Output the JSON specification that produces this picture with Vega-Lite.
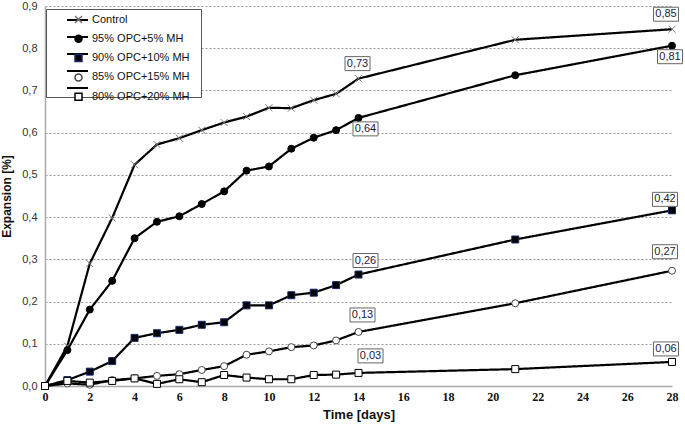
{
  "$schema": "https://vega.github.io/schema/vega-lite/v6.json",
  "width": 627,
  "height": 380,
  "autosize": "none",
  "padding": {"left": 45, "top": 6, "right": 13, "bottom": 40},
  "background": "white",
  "config": {"view": {"stroke": null}},
  "datasets": {
    "main": [
      {"series": "Control", "day": 0, "value": 0},
      {"series": "Control", "day": 1, "value": 0.095},
      {"series": "Control", "day": 2, "value": 0.29},
      {"series": "Control", "day": 3, "value": 0.398},
      {"series": "Control", "day": 4, "value": 0.524},
      {"series": "Control", "day": 5, "value": 0.572},
      {"series": "Control", "day": 6, "value": 0.587},
      {"series": "Control", "day": 7, "value": 0.606},
      {"series": "Control", "day": 8, "value": 0.624},
      {"series": "Control", "day": 9, "value": 0.638},
      {"series": "Control", "day": 10, "value": 0.659},
      {"series": "Control", "day": 11, "value": 0.658},
      {"series": "Control", "day": 12, "value": 0.677},
      {"series": "Control", "day": 13, "value": 0.692},
      {"series": "Control", "day": 14, "value": 0.728},
      {"series": "Control", "day": 21, "value": 0.82},
      {"series": "Control", "day": 28, "value": 0.845},
      {"series": "95% OPC+5% MH", "day": 0, "value": 0},
      {"series": "95% OPC+5% MH", "day": 1, "value": 0.085},
      {"series": "95% OPC+5% MH", "day": 2, "value": 0.181},
      {"series": "95% OPC+5% MH", "day": 3, "value": 0.249},
      {"series": "95% OPC+5% MH", "day": 4, "value": 0.35},
      {"series": "95% OPC+5% MH", "day": 5, "value": 0.389},
      {"series": "95% OPC+5% MH", "day": 6, "value": 0.402},
      {"series": "95% OPC+5% MH", "day": 7, "value": 0.431},
      {"series": "95% OPC+5% MH", "day": 8, "value": 0.461},
      {"series": "95% OPC+5% MH", "day": 9, "value": 0.51},
      {"series": "95% OPC+5% MH", "day": 10, "value": 0.52},
      {"series": "95% OPC+5% MH", "day": 11, "value": 0.562},
      {"series": "95% OPC+5% MH", "day": 12, "value": 0.588},
      {"series": "95% OPC+5% MH", "day": 13, "value": 0.606},
      {"series": "95% OPC+5% MH", "day": 14, "value": 0.635},
      {"series": "95% OPC+5% MH", "day": 21, "value": 0.736},
      {"series": "95% OPC+5% MH", "day": 28, "value": 0.806},
      {"series": "90% OPC+10% MH", "day": 0, "value": 0},
      {"series": "90% OPC+10% MH", "day": 1, "value": 0.014},
      {"series": "90% OPC+10% MH", "day": 2, "value": 0.034},
      {"series": "90% OPC+10% MH", "day": 3, "value": 0.059},
      {"series": "90% OPC+10% MH", "day": 4, "value": 0.114},
      {"series": "90% OPC+10% MH", "day": 5, "value": 0.125},
      {"series": "90% OPC+10% MH", "day": 6, "value": 0.133},
      {"series": "90% OPC+10% MH", "day": 7, "value": 0.145},
      {"series": "90% OPC+10% MH", "day": 8, "value": 0.151},
      {"series": "90% OPC+10% MH", "day": 9, "value": 0.191},
      {"series": "90% OPC+10% MH", "day": 10, "value": 0.191},
      {"series": "90% OPC+10% MH", "day": 11, "value": 0.215},
      {"series": "90% OPC+10% MH", "day": 12, "value": 0.221},
      {"series": "90% OPC+10% MH", "day": 13, "value": 0.239},
      {"series": "90% OPC+10% MH", "day": 14, "value": 0.264},
      {"series": "90% OPC+10% MH", "day": 21, "value": 0.347},
      {"series": "90% OPC+10% MH", "day": 28, "value": 0.416},
      {"series": "85% OPC+15% MH", "day": 0, "value": 0},
      {"series": "85% OPC+15% MH", "day": 1, "value": 0.006},
      {"series": "85% OPC+15% MH", "day": 2, "value": 0.003},
      {"series": "85% OPC+15% MH", "day": 3, "value": 0.014},
      {"series": "85% OPC+15% MH", "day": 4, "value": 0.018},
      {"series": "85% OPC+15% MH", "day": 5, "value": 0.024},
      {"series": "85% OPC+15% MH", "day": 6, "value": 0.028},
      {"series": "85% OPC+15% MH", "day": 7, "value": 0.038},
      {"series": "85% OPC+15% MH", "day": 8, "value": 0.047},
      {"series": "85% OPC+15% MH", "day": 9, "value": 0.074},
      {"series": "85% OPC+15% MH", "day": 10, "value": 0.082},
      {"series": "85% OPC+15% MH", "day": 11, "value": 0.092},
      {"series": "85% OPC+15% MH", "day": 12, "value": 0.096},
      {"series": "85% OPC+15% MH", "day": 13, "value": 0.108},
      {"series": "85% OPC+15% MH", "day": 14, "value": 0.128},
      {"series": "85% OPC+15% MH", "day": 21, "value": 0.196},
      {"series": "85% OPC+15% MH", "day": 28, "value": 0.273},
      {"series": "80% OPC+20% MH", "day": 0, "value": 0},
      {"series": "80% OPC+20% MH", "day": 1, "value": 0.012},
      {"series": "80% OPC+20% MH", "day": 2, "value": 0.008},
      {"series": "80% OPC+20% MH", "day": 3, "value": 0.012},
      {"series": "80% OPC+20% MH", "day": 4, "value": 0.018},
      {"series": "80% OPC+20% MH", "day": 5, "value": 0.005},
      {"series": "80% OPC+20% MH", "day": 6, "value": 0.016},
      {"series": "80% OPC+20% MH", "day": 7, "value": 0.009},
      {"series": "80% OPC+20% MH", "day": 8, "value": 0.026},
      {"series": "80% OPC+20% MH", "day": 9, "value": 0.02},
      {"series": "80% OPC+20% MH", "day": 10, "value": 0.016},
      {"series": "80% OPC+20% MH", "day": 11, "value": 0.016},
      {"series": "80% OPC+20% MH", "day": 12, "value": 0.026},
      {"series": "80% OPC+20% MH", "day": 13, "value": 0.027},
      {"series": "80% OPC+20% MH", "day": 14, "value": 0.031},
      {"series": "80% OPC+20% MH", "day": 21, "value": 0.04},
      {"series": "80% OPC+20% MH", "day": 28, "value": 0.057}
    ],
    "labels": [
      {"series": "Control", "day": 28, "value": 0.845, "label": "0,85"},
      {"series": "95% OPC+5% MH", "day": 28, "value": 0.806, "label": "0,81"},
      {"series": "Control", "day": 14, "value": 0.728, "label": "0,73"},
      {"series": "95% OPC+5% MH", "day": 14, "value": 0.635, "label": "0,64"},
      {"series": "90% OPC+10% MH", "day": 28, "value": 0.416, "label": "0,42"},
      {"series": "85% OPC+15% MH", "day": 28, "value": 0.273, "label": "0,27"},
      {"series": "90% OPC+10% MH", "day": 14, "value": 0.264, "label": "0,26"},
      {"series": "85% OPC+15% MH", "day": 14, "value": 0.128, "label": "0,13"},
      {"series": "80% OPC+20% MH", "day": 14, "value": 0.031, "label": "0,03"},
      {"series": "80% OPC+20% MH", "day": 28, "value": 0.057, "label": "0,06"}
    ]
  },
  "layer": [
    {
      "data": {"name": "main"},
      "mark": {"type": "line", "color": "black", "strokeWidth": 2.2},
      "encoding": {
        "x": {
          "field": "day", "type": "quantitative",
          "scale": {"domain": [0, 28], "nice": false},
          "axis": {
            "title": "Time [days]",
            "values": [0, 2, 4, 6, 8, 10, 12, 14, 16, 18, 20, 22, 24, 26, 28],
            "grid": false, "ticks": false, "domainColor": "#aaaaaa", "domainWidth": 1.5,
            "labelFont": "Liberation Sans Narrow", "labelFontWeight": "bold", "labelFontSize": 12,
            "labelColor": "#111111", "labelPadding": 5, "labelFlush": false,
            "titleFont": "Liberation Sans", "titleFontWeight": "bold", "titleFontSize": 13,
            "titleColor": "#111111", "titlePadding": 6
          }
        },
        "y": {
          "field": "value", "type": "quantitative",
          "scale": {"domain": [0, 0.9], "nice": false},
          "axis": {
            "title": "Expansion [%]",
            "values": [0, 0.1, 0.2, 0.3, 0.4, 0.5, 0.6, 0.7, 0.8, 0.9],
            "labelExpr": "replace(format(datum.value, '.1f'), '.', ',')",
            "grid": true, "gridDash": [2, 2], "gridColor": "#999999", "gridWidth": 1,
            "ticks": false, "domainColor": "#aaaaaa", "domainWidth": 1.5,
            "labelFont": "Liberation Sans", "labelFontSize": 11, "labelColor": "#333333",
            "labelPadding": 8, "labelFlush": false,
            "titleFont": "Liberation Sans", "titleFontWeight": "bold", "titleFontSize": 12,
            "titleColor": "#111111", "titlePadding": 8
          }
        },
        "strokeDash": {
          "field": "series", "type": "nominal",
          "scale": {
            "domain": ["Control", "95% OPC+5% MH", "90% OPC+10% MH", "85% OPC+15% MH", "80% OPC+20% MH", "none"],
            "range": [[1, 0], [1, 0], [1, 0], [1, 0], [1, 0], [1, 0]]
          },
          "legend": {
            "title": null,
            "values": ["Control", "95% OPC+5% MH", "90% OPC+10% MH", "85% OPC+15% MH", "80% OPC+20% MH"],
            "orient": "none",
            "legendX": 1,
            "legendY": 3,
            "padding": 5,
            "fillColor": "white",
            "strokeColor": "#555555",
            "cornerRadius": 0,
            "symbolType": "M-2.1,0H2.1",
            "symbolSize": 100,
            "symbolStrokeWidth": 2,
            "symbolStrokeColor": "black",
            "symbolOffset": 20.5,
            "labelOffset": 112,
            "rowPadding": 7,
            "labelExpr": "''",
            "labelFont": "Liberation Sans",
            "labelFontSize": 1,
            "labelOpacity": 0
          }
        },
        "detail": {"field": "series", "type": "nominal"}
      }
    },
    {
      "data": {"name": "main"},
      "mark": {"type": "point", "filled": true, "opacity": 1, "strokeWidth": 1},
      "encoding": {
        "x": {"field": "day", "type": "quantitative"},
        "y": {"field": "value", "type": "quantitative"},
        "shape": {
          "field": "series", "type": "nominal",
          "scale": {
            "domain": ["Control", "95% OPC+5% MH", "90% OPC+10% MH", "85% OPC+15% MH", "80% OPC+20% MH"],
            "range": ["M-1,-1L1,1M1,-1L-1,1", "circle", "square", "circle", "square"]
          },
          "legend": {
            "title": null,
            "orient": "none",
            "legendX": 1,
            "legendY": 3,
            "padding": 5,
            "fillColor": "transparent",
            "strokeColor": "transparent",
            "symbolOffset": 22,
            "labelOffset": 8,
            "rowPadding": 6.3,
            "labelFont": "Liberation Sans",
            "labelFontSize": 11,
            "labelColor": "#111111"
          }
        },
        "fill": {
          "field": "series", "type": "nominal",
          "scale": {
            "domain": ["Control", "95% OPC+5% MH", "90% OPC+10% MH", "85% OPC+15% MH", "80% OPC+20% MH"],
            "range": ["white", "black", "black", "white", "white"]
          }
        },
        "stroke": {
          "field": "series", "type": "nominal",
          "scale": {
            "domain": ["Control", "95% OPC+5% MH", "90% OPC+10% MH", "85% OPC+15% MH", "80% OPC+20% MH"],
            "range": ["#777777", "black", "#1a2a6c", "#444444", "black"]
          }
        },
        "size": {
          "field": "series", "type": "nominal",
          "scale": {
            "domain": ["Control", "95% OPC+5% MH", "90% OPC+10% MH", "85% OPC+15% MH", "80% OPC+20% MH"],
            "range": [49, 49, 45, 40, 42]
          }
        }
      }
    },
    {"data": {"name": "labels"}, "transform": [{"filter": "datum.label === '0,85'"}], "encoding": {"x": {"field": "day", "type": "quantitative"}, "y": {"field": "value", "type": "quantitative"}, "text": {"field": "label"}},
     "layer": [{"mark": {"type": "point", "shape": "M-1,-0.56H1V0.56H-1Z", "size": 625, "filled": true, "fill": "white", "stroke": "#666666", "strokeWidth": 1, "opacity": 1, "xOffset": -6, "yOffset": -15}},
               {"mark": {"type": "text", "dx": -6, "dy": -15, "font": "Liberation Sans", "fontSize": 11, "color": "#222233"}}]},
    {"data": {"name": "labels"}, "transform": [{"filter": "datum.label === '0,81'"}], "encoding": {"x": {"field": "day", "type": "quantitative"}, "y": {"field": "value", "type": "quantitative"}, "text": {"field": "label"}},
     "layer": [{"mark": {"type": "point", "shape": "M-1,-0.56H1V0.56H-1Z", "size": 625, "filled": true, "fill": "white", "stroke": "#666666", "strokeWidth": 1, "opacity": 1, "xOffset": -2, "yOffset": 11}},
               {"mark": {"type": "text", "dx": -2, "dy": 11, "font": "Liberation Sans", "fontSize": 11, "color": "#222233"}}]},
    {"data": {"name": "labels"}, "transform": [{"filter": "datum.label === '0,73'"}], "encoding": {"x": {"field": "day", "type": "quantitative"}, "y": {"field": "value", "type": "quantitative"}, "text": {"field": "label"}},
     "layer": [{"mark": {"type": "point", "shape": "M-1,-0.56H1V0.56H-1Z", "size": 625, "filled": true, "fill": "white", "stroke": "#666666", "strokeWidth": 1, "opacity": 1, "xOffset": -1, "yOffset": -15}},
               {"mark": {"type": "text", "dx": -1, "dy": -15, "font": "Liberation Sans", "fontSize": 11, "color": "#222233"}}]},
    {"data": {"name": "labels"}, "transform": [{"filter": "datum.label === '0,64'"}], "encoding": {"x": {"field": "day", "type": "quantitative"}, "y": {"field": "value", "type": "quantitative"}, "text": {"field": "label"}},
     "layer": [{"mark": {"type": "point", "shape": "M-1,-0.56H1V0.56H-1Z", "size": 625, "filled": true, "fill": "white", "stroke": "#666666", "strokeWidth": 1, "opacity": 1, "xOffset": 7, "yOffset": 11}},
               {"mark": {"type": "text", "dx": 7, "dy": 11, "font": "Liberation Sans", "fontSize": 11, "color": "#222233"}}]},
    {"data": {"name": "labels"}, "transform": [{"filter": "datum.label === '0,42'"}], "encoding": {"x": {"field": "day", "type": "quantitative"}, "y": {"field": "value", "type": "quantitative"}, "text": {"field": "label"}},
     "layer": [{"mark": {"type": "point", "shape": "M-1,-0.56H1V0.56H-1Z", "size": 625, "filled": true, "fill": "white", "stroke": "#666666", "strokeWidth": 1, "opacity": 1, "xOffset": -7, "yOffset": -11}},
               {"mark": {"type": "text", "dx": -7, "dy": -11, "font": "Liberation Sans", "fontSize": 11, "color": "#222233"}}]},
    {"data": {"name": "labels"}, "transform": [{"filter": "datum.label === '0,27'"}], "encoding": {"x": {"field": "day", "type": "quantitative"}, "y": {"field": "value", "type": "quantitative"}, "text": {"field": "label"}},
     "layer": [{"mark": {"type": "point", "shape": "M-1,-0.56H1V0.56H-1Z", "size": 625, "filled": true, "fill": "white", "stroke": "#666666", "strokeWidth": 1, "opacity": 1, "xOffset": -7, "yOffset": -19}},
               {"mark": {"type": "text", "dx": -7, "dy": -19, "font": "Liberation Sans", "fontSize": 11, "color": "#222233"}}]},
    {"data": {"name": "labels"}, "transform": [{"filter": "datum.label === '0,26'"}], "encoding": {"x": {"field": "day", "type": "quantitative"}, "y": {"field": "value", "type": "quantitative"}, "text": {"field": "label"}},
     "layer": [{"mark": {"type": "point", "shape": "M-1,-0.56H1V0.56H-1Z", "size": 625, "filled": true, "fill": "white", "stroke": "#666666", "strokeWidth": 1, "opacity": 1, "xOffset": 7, "yOffset": -14}},
               {"mark": {"type": "text", "dx": 7, "dy": -14, "font": "Liberation Sans", "fontSize": 11, "color": "#222233"}}]},
    {"data": {"name": "labels"}, "transform": [{"filter": "datum.label === '0,13'"}], "encoding": {"x": {"field": "day", "type": "quantitative"}, "y": {"field": "value", "type": "quantitative"}, "text": {"field": "label"}},
     "layer": [{"mark": {"type": "point", "shape": "M-1,-0.56H1V0.56H-1Z", "size": 625, "filled": true, "fill": "white", "stroke": "#666666", "strokeWidth": 1, "opacity": 1, "xOffset": 4, "yOffset": -17}},
               {"mark": {"type": "text", "dx": 4, "dy": -17, "font": "Liberation Sans", "fontSize": 11, "color": "#222233"}}]},
    {"data": {"name": "labels"}, "transform": [{"filter": "datum.label === '0,03'"}], "encoding": {"x": {"field": "day", "type": "quantitative"}, "y": {"field": "value", "type": "quantitative"}, "text": {"field": "label"}},
     "layer": [{"mark": {"type": "point", "shape": "M-1,-0.56H1V0.56H-1Z", "size": 625, "filled": true, "fill": "white", "stroke": "#666666", "strokeWidth": 1, "opacity": 1, "xOffset": 12, "yOffset": -17}},
               {"mark": {"type": "text", "dx": 12, "dy": -17, "font": "Liberation Sans", "fontSize": 11, "color": "#222233"}}]},
    {"data": {"name": "labels"}, "transform": [{"filter": "datum.label === '0,06'"}], "encoding": {"x": {"field": "day", "type": "quantitative"}, "y": {"field": "value", "type": "quantitative"}, "text": {"field": "label"}},
     "layer": [{"mark": {"type": "point", "shape": "M-1,-0.56H1V0.56H-1Z", "size": 625, "filled": true, "fill": "white", "stroke": "#666666", "strokeWidth": 1, "opacity": 1, "xOffset": -6, "yOffset": -13}},
               {"mark": {"type": "text", "dx": -6, "dy": -13, "font": "Liberation Sans", "fontSize": 11, "color": "#222233"}}]}
  ]
}
